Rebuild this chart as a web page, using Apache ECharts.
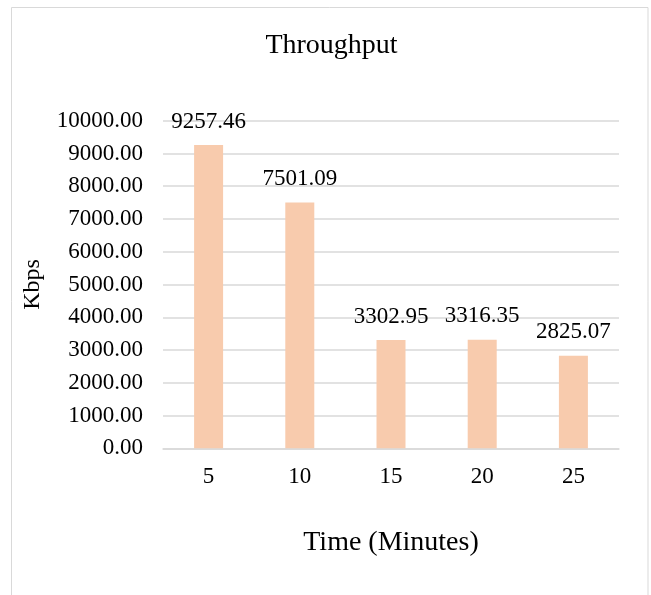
<!DOCTYPE html>
<html>
<head>
<meta charset="utf-8">
<script src="https://cdn.jsdelivr.net/npm/echarts@6/dist/echarts.min.js"></script>
<style>
html,body{margin:0;padding:0;background:#fff;}
#chart{width:651px;height:595px;}
</style>
</head>
<body>
<div id="chart"></div>
<script>
const titleText = 'Throughput';
const xAxisTitle = 'Time (Minutes)';
const yAxisTitle = 'Kbps';
const categories = ['5', '10', '15', '20', '25'];
const throughput = [9257.46, 7501.09, 3302.95, 3316.35, 2825.07];
const yMin = 0, yMax = 10000, yStep = 1000;

const FONT = "'Liberation Serif', 'Times New Roman', serif";
const chart = echarts.init(document.getElementById('chart'), null, {renderer: 'canvas'});
chart.setOption({
  animation: false,
  backgroundColor: '#ffffff',
  graphic: [
    {type: 'rect', shape: {x: 11.5, y: 7.5, width: 636.5, height: 620},
     style: {fill: 'none', stroke: '#d9d9d9', lineWidth: 1}, silent: true},
    {type: 'text', x: 331.5, y: 46,
     style: {text: titleText, textAlign: 'center', textVerticalAlign: 'middle',
             font: "28px 'Liberation Serif', 'Times New Roman', serif", fill: '#000'}}
  ],
  grid: {left: 163, right: 32, top: 120.7, bottom: 146.7, containLabel: false},
  xAxis: {
    type: 'category',
    data: categories,
    name: xAxisTitle,
    nameLocation: 'middle',
    nameGap: 80,
    nameTextStyle: {fontFamily: FONT, fontSize: 28, color: '#000'},
    axisLine: {show: true, lineStyle: {color: '#d9d9d9', width: 1.5}},
    axisTick: {show: false},
    axisLabel: {fontFamily: FONT, fontSize: 23, color: '#000', margin: 17}
  },
  yAxis: {
    type: 'value',
    min: yMin, max: yMax, interval: yStep,
    name: yAxisTitle,
    nameLocation: 'middle',
    nameGap: 118,
    nameRotate: 90,
    nameTextStyle: {fontFamily: FONT, fontSize: 24, color: '#000'},
    axisLine: {show: false},
    axisTick: {show: false},
    splitLine: {show: true, lineStyle: {color: '#d9d9d9', width: 1.5}},
    axisLabel: {fontFamily: FONT, fontSize: 23, color: '#000', margin: 20,
                formatter: v => v.toFixed(2)}
  },
  series: [{
    type: 'bar',
    data: throughput,
    barWidth: 29,
    itemStyle: {color: '#F8CBAD'},
    label: {show: true, position: 'top', distance: 12,
            fontFamily: FONT, fontSize: 23, color: '#000',
            formatter: p => p.value.toFixed(2)}
  }]
});
</script>
</body>
</html>
